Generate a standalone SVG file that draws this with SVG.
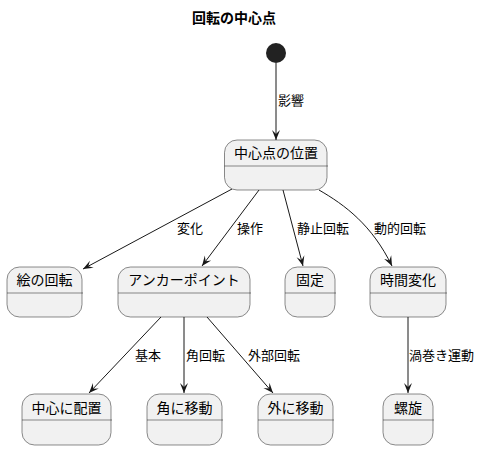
<svg xmlns="http://www.w3.org/2000/svg" width="481" height="449" viewBox="0 0 481 449">
<style>
text{font-family:"Liberation Sans","Noto Sans CJK JP",sans-serif;fill:#000}
.t{font-size:14px;font-weight:bold;text-anchor:middle}
.n{font-size:14px;text-anchor:middle}
.l{font-size:13px}
.box{fill:#F1F1F1;stroke:#181818;stroke-width:0.5}
.div{stroke:#181818;stroke-width:0.5}
.e{fill:none;stroke:#181818;stroke-width:1}
</style>
<defs>
<marker id="a" viewBox="0 0 10 10" refX="10" refY="5" markerWidth="10" markerHeight="10" markerUnits="userSpaceOnUse" orient="auto">
<path d="M0,1 L10,5 L0,9 L4,5 Z" fill="#181818"/>
</marker>
</defs>
<rect width="481" height="449" fill="#FFFFFF"/>
<text class="t" x="234" y="23">回転の中心点</text>
<g id="start"><circle cx="276" cy="53" r="10" fill="#222222"/></g>
<g id="connectors">
<path class="e" d="M276,63 L276,140" marker-end="url(#a)"/>
<text class="l" x="278" y="105">影響</text>
<path class="e" d="M232,189 L83,269" marker-end="url(#a)"/>
<text class="l" x="177" y="233">変化</text>
<path class="e" d="M259,190 L202,266" marker-end="url(#a)"/>
<text class="l" x="237" y="233">操作</text>
<path class="e" d="M283,190 L303,266" marker-end="url(#a)"/>
<text class="l" x="297" y="233">静止回転</text>
<path class="e" d="M319,190 C345,205 372,225 392,266" marker-end="url(#a)"/>
<text class="l" x="374" y="233">動的回転</text>
<path class="e" d="M161,317 L89,393" marker-end="url(#a)"/>
<text class="l" x="135" y="360">基本</text>
<path class="e" d="M184,317 L184,393" marker-end="url(#a)"/>
<text class="l" x="186" y="360">角回転</text>
<path class="e" d="M207,317 L273,393" marker-end="url(#a)"/>
<text class="l" x="248" y="360">外部回転</text>
<path class="e" d="M408,317 L408,393" marker-end="url(#a)"/>
<text class="l" x="409" y="360">渦巻き運動</text>
</g>
<g id="center"><rect class="box" x="224.5" y="140" width="102.5" height="50" rx="12.5"/><line class="div" x1="224.5" y1="166" x2="328" y2="166"/><text class="n" x="276" y="158">中心点の位置</text></g>
<g id="picrot"><rect class="box" x="7" y="267" width="75" height="50" rx="12.5"/><line class="div" x1="7" y1="293" x2="83" y2="293"/><text class="n" x="44.5" y="285">絵の回転</text></g>
<g id="anchor"><rect class="box" x="118" y="267" width="132" height="50" rx="12.5"/><line class="div" x1="118" y1="293" x2="251" y2="293"/><text class="n" x="184" y="285">アンカーポイント</text></g>
<g id="fixed"><rect class="box" x="285" y="267" width="50" height="50" rx="12.5"/><line class="div" x1="285" y1="293" x2="336" y2="293"/><text class="n" x="310" y="285">固定</text></g>
<g id="timechange"><rect class="box" x="370" y="267" width="76" height="50" rx="12.5"/><line class="div" x1="370" y1="293" x2="447" y2="293"/><text class="n" x="408" y="285">時間変化</text></g>
<g id="placecenter"><rect class="box" x="22" y="394" width="89" height="51" rx="12.5"/><line class="div" x1="22" y1="420" x2="112" y2="420"/><text class="n" x="66.5" y="413">中心に配置</text></g>
<g id="corner"><rect class="box" x="147" y="394" width="75" height="51" rx="12.5"/><line class="div" x1="147" y1="420" x2="223" y2="420"/><text class="n" x="184.5" y="413">角に移動</text></g>
<g id="outside"><rect class="box" x="258" y="394" width="75" height="51" rx="12.5"/><line class="div" x1="258" y1="420" x2="334" y2="420"/><text class="n" x="295.5" y="413">外に移動</text></g>
<g id="spiral"><rect class="box" x="383" y="394" width="50" height="51" rx="12.5"/><line class="div" x1="383" y1="420" x2="434" y2="420"/><text class="n" x="408" y="413">螺旋</text></g>
</svg>
